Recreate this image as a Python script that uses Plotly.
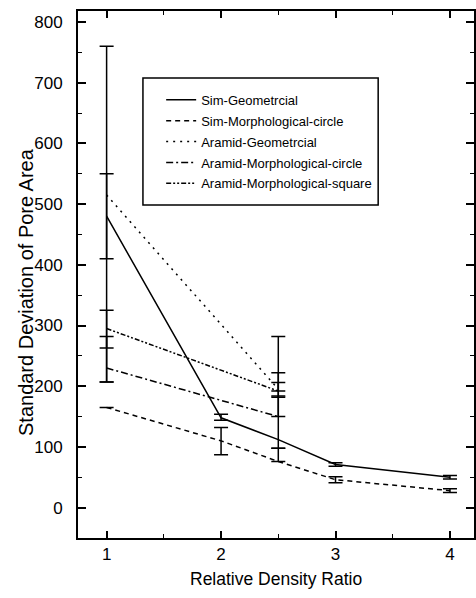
import plotly.graph_objects as go

# Data
sim_x = [1, 2, 2.5, 3, 4]
sim_geo = [480, 148, 112, 71, 50]
sim_geo_plus = [280, 6, 72, 3, 3]
sim_geo_minus = [273, 4, 14, 3, 3]

sim_morph = [165, 110, 76, 46, 28]
sim_morph_plus = [0, 22, 22, 5, 3]
sim_morph_minus = [0, 23, 0, 5, 3]

ara_x = [1, 2.5]
ara_geo = [515, 195]
ara_geo_plus = [35, 87]
ara_geo_minus = [105, 13]

ara_circ = [230, 150]
ara_circ_plus = [52, 56]
ara_circ_minus = [23, 0]

ara_sq = [295, 192]
ara_sq_plus = [30, 30]
ara_sq_minus = [32, 0]

names = ["Sim-Geometrcial", "Sim-Morphological-circle", "Aramid-Geometrcial",
         "Aramid-Morphological-circle", "Aramid-Morphological-square"]

x_ticks = [1, 2, 3, 4]
y_ticks = [0, 100, 200, 300, 400, 500, 600, 700, 800]

fig = go.Figure()

def add(x, y, plus, minus, name, dash):
    fig.add_trace(go.Scatter(
        x=x, y=y, name=name, mode="lines", legendgroup=name,
        line=dict(color="black", width=1.5, dash=dash),
        error_y=dict(type="data", array=plus, arrayminus=minus, symmetric=False,
                     color="black", thickness=1.5, width=7),
    ))

add(sim_x, sim_geo, sim_geo_plus, sim_geo_minus, names[0], "solid")
add(sim_x, sim_morph, sim_morph_plus, sim_morph_minus, names[1], "5px,4px")
add(ara_x, ara_geo, ara_geo_plus, ara_geo_minus, names[2], "2px,5px")
add(ara_x, ara_circ, ara_circ_plus, ara_circ_minus, names[3], "7px,3px,2px,3px")
add(ara_x, ara_sq, ara_sq_plus, ara_sq_minus, names[4], "5px,2px,2px,2px,2px,2px")

font = "Liberation Sans, Arial, sans-serif"

fig.update_layout(
    width=476, height=598,
    margin=dict(l=78, r=2, t=11, b=60),
    plot_bgcolor="white", paper_bgcolor="white",
    font=dict(family=font, color="black", size=13),
    legend=dict(
        x=0.210, y=0.860, xanchor="left", yanchor="top",
        borderwidth=0, bgcolor="rgba(0,0,0,0)",
        font=dict(size=13, family=font),
        itemwidth=30, tracegroupgap=1,
    ),
    showlegend=True,
    shapes=[dict(type="rect", xref="paper", yref="paper",
                 x0=0.164, x1=0.758, y0=0.632, y1=0.873,
                 line=dict(color="black", width=1.5), fillcolor="white", layer="below")],
    annotations=[
        dict(text="Standard Deviation of Pore Area", xref="paper", yref="paper",
             x=-0.131, y=0.467, showarrow=False, textangle=-90,
             font=dict(size=20, family=font), xanchor="center", yanchor="middle"),
        dict(text="Relative Density Ratio", xref="paper", yref="paper",
             x=0.5, y=-0.078, showarrow=False,
             font=dict(size=17.5, family=font), xanchor="center", yanchor="middle"),
    ],
)

fig.update_xaxes(
    range=[0.75, 4.21], tickvals=x_ticks, ticktext=[str(v) for v in x_ticks],
    ticks="inside", ticklen=7, tickwidth=1.5, tickcolor="black",
    minor=dict(dtick=0.5, ticks="inside", ticklen=4, tickcolor="black", tickwidth=1),
    showline=True, linecolor="black", linewidth=2, mirror="ticks",
    showgrid=False, zeroline=False, automargin=False,
    tickfont=dict(size=17),
)
fig.update_yaxes(
    range=[-50, 818], tickvals=y_ticks, ticktext=[str(v) for v in y_ticks],
    ticks="inside", ticklen=8, tickwidth=1.5, tickcolor="black",
    minor=dict(dtick=50, ticks="inside", ticklen=4, tickcolor="black", tickwidth=1),
    showline=True, linecolor="black", linewidth=2, mirror="ticks",
    showgrid=False, zeroline=False, automargin=False,
    tickfont=dict(size=17), ticklabelstandoff=10,
)

fig.write_html("out.html")
